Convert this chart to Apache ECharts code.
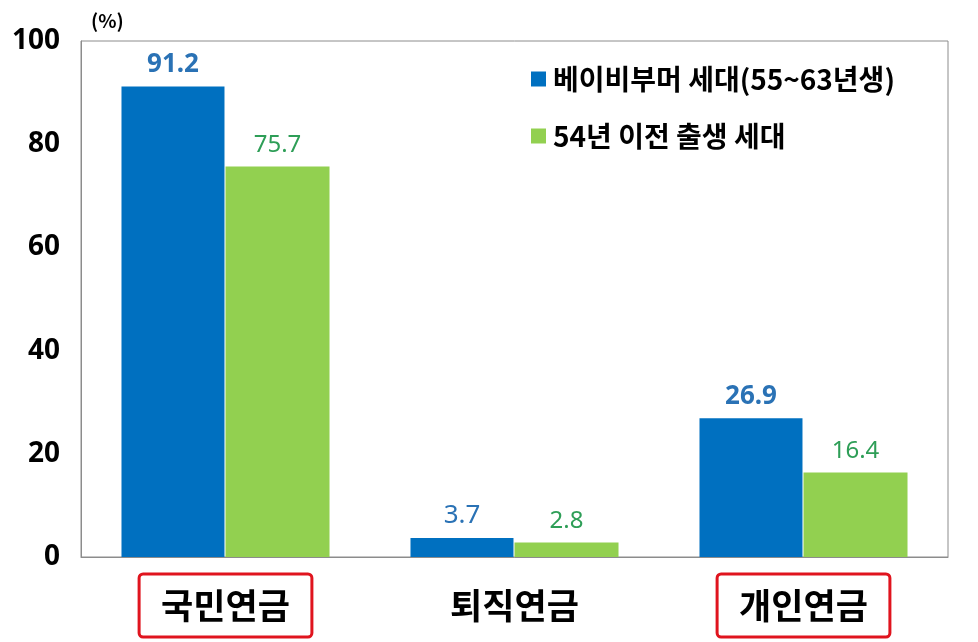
<!DOCTYPE html>
<html><head><meta charset="utf-8">
<script src="https://cdn.jsdelivr.net/npm/echarts@6/dist/echarts.min.js"></script>
<style>html,body{margin:0;padding:0;background:#fff}#c{width:978px;height:642px}</style>
</head><body><div id="c"></div>
<script>
const categories = ['국민연금', '퇴직연금', '개인연금'];
const boxedCategories = ['국민연금', '개인연금'];
const seriesNames = ['베이비부머 세대(55~63년생)', '54년 이전 출생 세대'];
const boomerValues = [91.2, 3.7, 26.9];
const olderValues = [75.7, 2.8, 16.4];
const boomerBoldLabel = [true, false, true];
const yTicks = [0, 20, 40, 60, 80, 100];
const unitLabel = '(%)';

const KR = "'Noto Sans CJK KR', 'Noto Sans', sans-serif";
const NUM = "'Noto Sans', 'Noto Sans CJK KR', sans-serif";

const chart = echarts.init(document.getElementById('c'), null, {renderer: 'canvas'});
chart.setOption({
  animation: false,
  backgroundColor: '#ffffff',
  grid: {left: 81, top: 41, right: 30, bottom: 85, show: true, borderColor: '#8c8c8c', borderWidth: 1, containLabel: false},
  legend: {
    orient: 'vertical', left: 526, top: 60, itemGap: 29,
    itemWidth: 15, itemHeight: 15, icon: 'rect',
    textStyle: {fontFamily: KR, fontSize: 28, fontWeight: 'bold', color: '#000', padding: [0, 0, 0, 2]},
    data: seriesNames
  },
  graphic: [{type: 'text', left: 91, top: 11, style: {text: unitLabel, font: "bold 19px " + KR, fill: '#000'}}],
  xAxis: {
    type: 'category', data: categories,
    axisLine: {show: true, lineStyle: {color: '#8c8c8c'}},
    axisTick: {show: false},
    axisLabel: {
      margin: 31, interval: 0,
      formatter: v => boxedCategories.includes(v) ? '{box|' + v + '}' : '{plain|' + v + '}',
      rich: {
        box: {fontFamily: KR, fontSize: 35, fontWeight: 'bold', color: '#000', borderColor: '#e0141e', borderWidth: 3, borderRadius: 4, padding: [14, 22, 14, 22], lineHeight: 35},
        plain: {fontFamily: KR, fontSize: 35, fontWeight: 'bold', color: '#000', padding: [14, 22, 14, 22], lineHeight: 35}
      }
    }
  },
  yAxis: {
    type: 'value', min: 0, max: 100, interval: 20,
    axisLine: {show: true, lineStyle: {color: '#8c8c8c'}},
    axisTick: {show: false},
    splitLine: {show: false},
    axisLabel: {margin: 21, fontFamily: NUM, fontSize: 28, fontWeight: 'bold', color: '#000',
      formatter: v => yTicks.includes(v) ? String(v) : ''}
  },
  series: [
    {
      name: seriesNames[0], type: 'bar', barWidth: 103, barGap: '1%', barCategoryGap: '28%',
      itemStyle: {color: '#0070C0'},
      data: boomerValues.map((v, i) => ({value: v, label: {fontWeight: boomerBoldLabel[i] ? 'bold' : 'normal'}})),
      label: {show: true, position: 'top', distance: 9, fontFamily: NUM, fontSize: 26, color: '#2A72B5', formatter: p => p.value.toFixed(1)}
    },
    {
      name: seriesNames[1], type: 'bar', barWidth: 104,
      itemStyle: {color: '#92D050'},
      data: olderValues,
      label: {show: true, position: 'top', distance: 9, fontFamily: NUM, fontSize: 24, color: '#2E9E57', formatter: p => p.value.toFixed(1)}
    }
  ]
});
</script></body></html>
